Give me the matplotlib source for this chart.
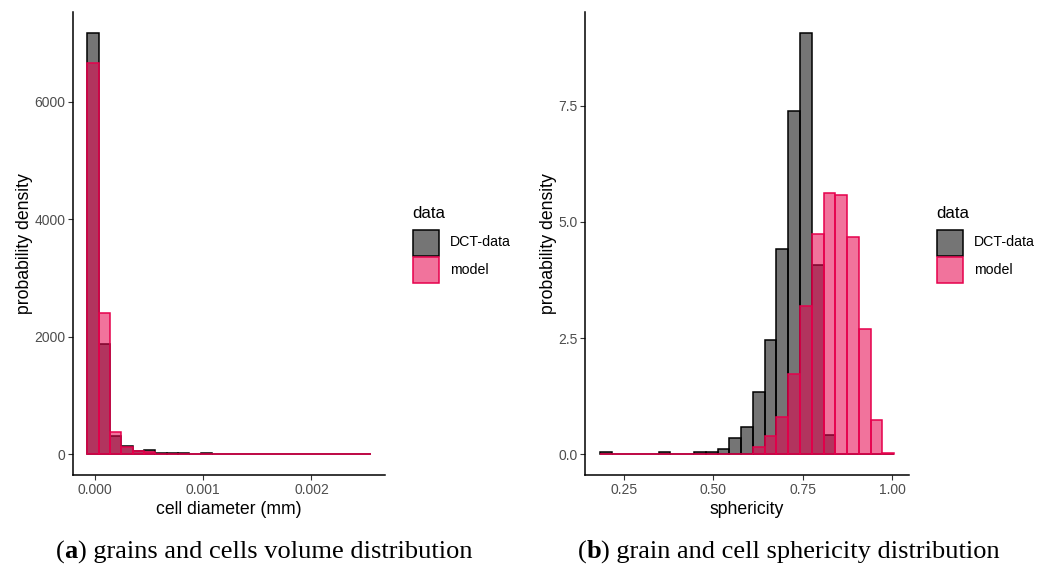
import numpy as np
import matplotlib
matplotlib.use("Agg")
import matplotlib.pyplot as plt
from matplotlib.patches import Rectangle
from matplotlib.offsetbox import TextArea, HPacker, AnnotationBbox

plt.rcParams['font.family'] = 'Liberation Sans'

# (a) cell diameter histogram, 25 bins, density
diam_start = -0.000069
diam_width = 0.0001047
diam_dct = [7176, 1872, 311, 148, 62, 79, 20, 20, 15, 0, 25, 3, 0, 0, 0, 0, 0, 0, 0, 0, 0, 0, 0, 0, 0]
diam_model = [6655, 2400, 380, 125, 57, 34, 6, 5, 4, 3, 3, 2, 1, 1, 1, 1, 0, 0, 0, 0, 0, 0, 0, 0, 0]

# (b) sphericity histogram, 25 bins, density
sph_start = 0.182
sph_width = 0.03296
sph_dct = [0.043, 0, 0, 0, 0, 0.043, 0, 0, 0.04, 0.04, 0.115, 0.344, 0.58, 1.35, 2.46,
           4.42, 7.38, 9.07, 4.07, 0.42, 0, 0, 0, 0, 0]
sph_model = [0, 0, 0, 0, 0, 0, 0, 0, 0, 0, 0, 0, 0, 0.165, 0.387,
             0.81, 1.73, 3.2, 4.73, 5.62, 5.58, 4.67, 2.69, 0.74, 0.02]

labels = ['DCT-data', 'model']
captions = [('a', ') grains and cells volume distribution'),
            ('b', ') grain and cell sphericity distribution')]

grey_fill = (0, 0, 0, 0.54)
red = '#E6004C'
red_fill = (230/255, 0, 76/255, 0.55)
tick_col = '#4D4D4D'

W, H = 1051, 569
fig = plt.figure(figsize=(W/100, H/100), dpi=100)
ax1 = fig.add_axes([73.3/W, 1-475.4/H, (385-73.3)/W, (475.4-11.6)/H])
ax2 = fig.add_axes([585/W, 1-475.4/H, (909-585)/W, (475.4-11.6)/H])


def draw_hist(ax, start, width, dct, model):
    n = len(dct)
    edges = start + width*np.arange(n)
    ax.bar(edges, dct, width=width, align='edge', color=grey_fill, edgecolor='black', linewidth=1.1)
    ax.bar(edges, model, width=width, align='edge', color=red_fill, edgecolor=red, linewidth=1.1)
    lo, hi = edges[0], edges[-1]+width
    pad = (hi-lo)*0.05
    ax.set_xlim(lo-pad, hi+pad)
    top = max(max(dct), max(model))
    ax.set_ylim(-top*0.05, top*1.05)
    for s in ['top', 'right']:
        ax.spines[s].set_visible(False)
    for s in ['left', 'bottom']:
        ax.spines[s].set_linewidth(1.1)
    ax.tick_params(length=3.5, width=0.8, color='#333333', labelcolor=tick_col, labelsize=10, pad=2)
    ax.set_ylabel('probability density', fontsize=12.7, labelpad=1)


def px(x, y):
    return x/W, 1-y/H


def legend(x0):
    fig.text(*px(x0, 213), 'data', fontsize=12.2, va='center', ha='left')
    styles = [(grey_fill, 'black'), (red_fill, red)]
    for i, (lab, (fc, ec)) in enumerate(zip(labels, styles)):
        top = 229 + i*27.5
        fig.add_artist(Rectangle(px(x0+0.5, top+26.5), 26/W, 26/H, transform=fig.transFigure,
                                 facecolor=fc, edgecolor=ec, linewidth=1.1))
        fig.text(*px(x0+37.5, top+13.5), lab, fontsize=10.2, va='center', ha='left')


draw_hist(ax1, diam_start, diam_width, diam_dct, diam_model)
ax1.set_xticks([0, 0.001, 0.002])
ax1.set_xticklabels(['0.000', '0.001', '0.002'])
ax1.set_yticks([0, 2000, 4000, 6000])
ax1.set_xlabel('cell diameter (mm)', fontsize=12.7, labelpad=3)

draw_hist(ax2, sph_start, sph_width, sph_dct, sph_model)
ax2.set_xticks([0.25, 0.5, 0.75, 1.0])
ax2.set_xticklabels(['0.25', '0.50', '0.75', '1.00'])
ax2.set_yticks([0, 2.5, 5.0, 7.5])
ax2.set_yticklabels(['0.0', '2.5', '5.0', '7.5'])
ax2.set_xlabel('sphericity', fontsize=12.7, labelpad=3)

legend(412.7)
legend(936.7)

for (bold, rest), cx in zip(captions, [264, 789]):
    tp = dict(family='Liberation Serif', size=19)
    box = HPacker(children=[TextArea('(', textprops=tp),
                            TextArea(bold, textprops=dict(tp, weight='bold')),
                            TextArea(rest, textprops=tp)],
                  align='baseline', pad=0, sep=0)
    ab = AnnotationBbox(box, px(cx, 552), xycoords='figure fraction', frameon=False,
                        box_alignment=(0.5, 0.5), pad=0)
    fig.add_artist(ab)

fig.savefig('out.png', dpi=100)
